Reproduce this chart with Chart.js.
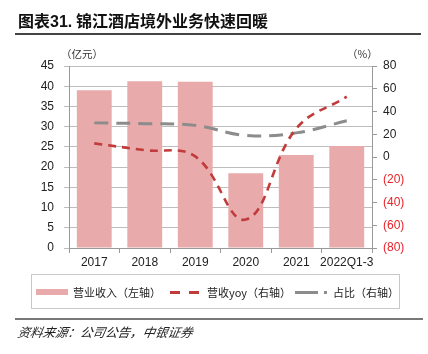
<!DOCTYPE html>
<html><head><meta charset="utf-8">
<script src="https://cdn.jsdelivr.net/npm/chart.js@4/dist/chart.umd.min.js"></script>
<style>
html,body{margin:0;padding:0;background:#fff;width:428px;height:354px;overflow:hidden;font-family:"Noto Sans CJK SC","Liberation Sans",sans-serif;}
#wrap{position:relative;width:428px;height:354px;}
canvas{position:absolute;left:0;top:0;}
.abs{position:absolute;white-space:nowrap;}
#title{left:18px;top:9px;font-size:16px;font-weight:bold;color:#111;line-height:22px;}
#title .num{font-family:"Liberation Sans",Arial,sans-serif;}
#tline{left:15px;top:33px;width:406px;height:2px;background:#444;}
.unit{font-size:10.5px;color:#333;top:47px;line-height:14px;}
#legend{left:31px;top:274px;width:369px;height:35px;border:1px solid #c8c8c8;box-sizing:border-box;}
.lt{font-size:11px;color:#222;top:284px;line-height:16px;}
#bline{left:15px;top:318px;width:408px;height:2px;background:#777;}
#src{left:18px;top:323px;font-size:12.5px;font-style:italic;color:#222;line-height:18px;transform:skewX(-10deg);transform-origin:left;}
</style></head>
<body><div id="wrap">
<canvas id="c" width="428" height="354"></canvas>
<div id="title" class="abs">图表<span class="num">31.</span> 锦江酒店境外业务快速回暖</div>
<div id="tline" class="abs"></div>
<div class="abs unit" style="left:61px;">（亿元）</div>
<div class="abs unit" style="left:347px;">（%）</div>
<div id="legend" class="abs"></div>
<div class="abs" style="left:36px;top:289px;width:32px;height:6px;background:#E8AAAA;"></div>
<div class="abs lt" style="left:73px;">营业收入（左轴）</div>
<div class="abs" style="left:170px;top:291px;width:10px;height:3px;background:#C23B3B;"></div>
<div class="abs" style="left:189px;top:291px;width:10px;height:3px;background:#C23B3B;"></div>
<div class="abs lt" style="left:207px;">营收yoy（右轴）</div>
<div class="abs" style="left:295px;top:291px;width:23px;height:3px;background:#8C8C8C;"></div>
<div class="abs" style="left:324px;top:291px;width:3px;height:3px;background:#8C8C8C;"></div>
<div class="abs lt" style="left:333px;">占比（右轴）</div>
<div id="bline" class="abs"></div>
<div id="src" class="abs">资料来源：公司公告，中银证券</div>
</div>
<script>
const categories = ["2017","2018","2019","2020","2021","2022Q1-3"];
const revenue = [39.0, 41.2, 41.1, 18.5, 23.0, 25.2];
const revenueYoy = [12, 6, 0.5, -55, 25, 53];
const share = [30, 29.3, 27.8, 19, 21.2, 31.8];
const leftTicks = [0,5,10,15,20,25,30,35,40,45];
const rightTicks = [-80,-60,-40,-20,0,20,40,60,80];

new Chart(document.getElementById('c'), {
  data: {
    labels: categories,
    datasets: [
      {type:'line', label:'营收yoy（右轴）', data: revenueYoy, yAxisID:'y1', borderColor:'#C23B3B', borderWidth:2.6, borderDash:[8,6], pointRadius:0, tension:0.4, order:1, fill:false},
      {type:'line', label:'占比（右轴）', data: share, yAxisID:'y1', borderColor:'#8C8C8C', borderWidth:3, borderDash:[14,8], pointRadius:0, tension:0.4, order:2, fill:false},
      {type:'bar', label:'营业收入（左轴）', data: revenue, yAxisID:'y', backgroundColor:'#E8AAAA', categoryPercentage:1, barPercentage:0.69, order:3}
    ]
  },
  options: {
    responsive:false, animation:false,
    layout:{padding:{left:0,right:0,top:66,bottom:0}},
    plugins:{legend:{display:false}, title:{display:false}, tooltip:{enabled:false}},
    scales:{
      x:{
        offset:true,
        grid:{display:true, drawOnChartArea:false, drawTicks:true, tickLength:5, color:'#999', offset:true},
        border:{display:true, color:'#999', width:1},
        ticks:{color:'#222', font:{family:'"Liberation Sans", Arial, sans-serif', size:12}, padding:2, maxRotation:0, autoSkip:false},
        afterFit(s){ s.height = 354-248; }
      },
      y:{
        position:'left', min:0, max:45,
        afterBuildTicks(s){ s.ticks = leftTicks.map(v=>({value:v})); },
        grid:{color:'#BDBDBD', lineWidth:1, drawTicks:true, tickLength:5},
        border:{display:true, color:'#999', width:1},
        ticks:{color:'#222', font:{family:'"Liberation Sans", Arial, sans-serif', size:12}, padding:10},
        afterFit(s){ s.width = 69; }
      },
      y1:{
        position:'right', min:-80, max:80,
        afterBuildTicks(s){ s.ticks = rightTicks.map(v=>({value:v})); },
        grid:{drawOnChartArea:false, drawTicks:true, tickLength:5, color:'#999'},
        border:{display:true, color:'#999', width:1},
        ticks:{
          font:{family:'"Liberation Sans", Arial, sans-serif', size:12}, padding:6,
          color:(ctx)=> (ctx.tick && ctx.tick.value < 0) ? '#E8222A' : '#222',
          callback:(v)=> v<0 ? '('+Math.abs(v)+')' : String(v)
        },
        afterFit(s){ s.width = 428-372; }
      }
    }
  }
});
</script>
</body></html>
